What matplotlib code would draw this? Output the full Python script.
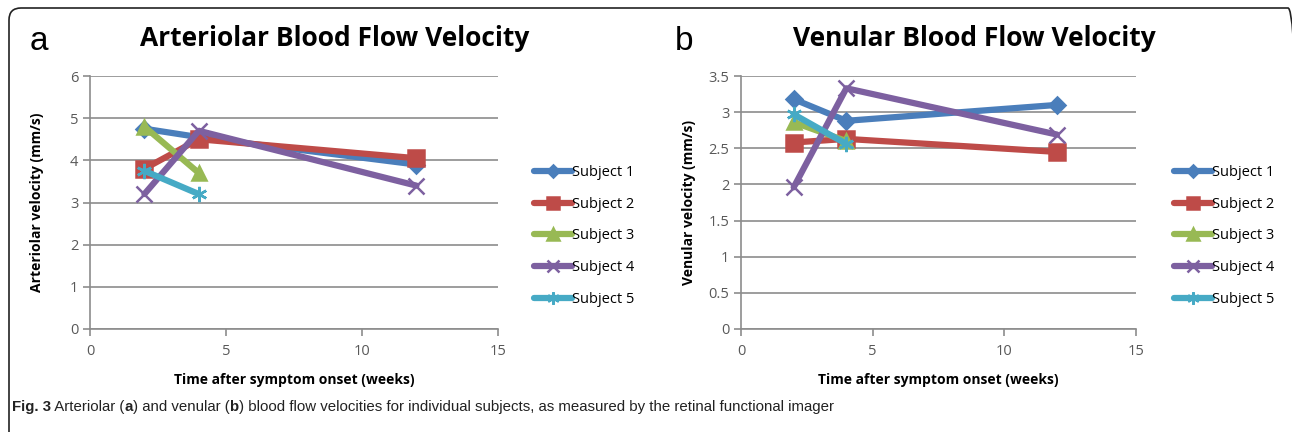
import matplotlib
matplotlib.use("Agg")
import matplotlib.pyplot as plt
from matplotlib.patches import FancyBboxPatch

plt.rcParams['font.family'] = ['Open Sans', 'DejaVu Sans']

# data
weeks_3 = [2, 4, 12]
weeks_2 = [2, 4]
subjects = ["Subject 1", "Subject 2", "Subject 3", "Subject 4", "Subject 5"]

art_s1 = [4.75, 4.55, 3.9]
art_s2 = [3.8, 4.5, 4.05]
art_s3 = [4.8, 3.7]
art_s4 = [3.2, 4.7, 3.4]
art_s5 = [3.75, 3.2]

ven_s1 = [3.18, 2.88, 3.1]
ven_s2 = [2.58, 2.63, 2.45]
ven_s3 = [2.86, 2.6]
ven_s4 = [1.96, 3.33, 2.69]
ven_s5 = [2.97, 2.56]

colors = ["#4A7EBB", "#BE4B48", "#98B954", "#7D60A0", "#46AAC5"]
markers = ["D", "s", "^", "x", (6, 2, 0)]
msizes = [8, 11, 10, 11, 11]

W, H = 1292, 432
fig = plt.figure(figsize=(W / 100, H / 100), dpi=100)

# rounded frame (only top/left visible in the original), in inches
frame = FancyBboxPatch((0.09, -0.5), 13.0 - 0.09, 4.32 - 0.08 + 0.5,
                       boxstyle="round,pad=0,rounding_size=0.12",
                       transform=fig.dpi_scale_trans, fill=False,
                       edgecolor="#222222", linewidth=1.2)
fig.patches.append(frame)


def draw_panel(ax, xs_list, ys_list, ymax, ystep, ylabel, yfmt, ylab_x):
    for i in range(5):
        ax.plot(xs_list[i], ys_list[i], color=colors[i], lw=4.5,
                marker=markers[i], ms=msizes[i], mew=1.8,
                mfc=colors[i], mec=colors[i], label=subjects[i],
                solid_capstyle="round")
    ax.set_xlim(0, 15)
    ax.set_ylim(0, ymax)
    ax.set_xticks([0, 5, 10, 15])
    yt = [k * ystep for k in range(int(round(ymax / ystep)) + 1)]
    ax.set_yticks(yt)
    ax.set_yticklabels([yfmt(v) for v in yt])
    ax.yaxis.grid(True, color="#8C8C8C", lw=1.2)
    ax.set_axisbelow(True)
    for s in ["top", "right"]:
        ax.spines[s].set_visible(False)
    for s in ["left", "bottom"]:
        ax.spines[s].set_color("#8C8C8C")
        ax.spines[s].set_linewidth(1.2)
    ax.tick_params(labelcolor="#595959", color="#8C8C8C", labelsize=10.5,
                   length=5, width=1.2, direction="out")
    ax.tick_params(axis="x", pad=6)
    ax.set_xlabel("Time after symptom onset (weeks)", fontsize=10,
                  fontweight="bold", labelpad=10)
    ax.set_ylabel(ylabel, fontsize=10, fontweight="bold")
    ax.yaxis.set_label_coords(ylab_x, 0.5)


def fmt_int(v):
    return "%d" % round(v)


def fmt_half(v):
    return ("%g" % v)


ax1 = fig.add_axes([90 / W, 1 - 329 / H, 408 / W, 253 / H])
draw_panel(ax1, [weeks_3, weeks_3, weeks_2, weeks_3, weeks_2],
           [art_s1, art_s2, art_s3, art_s4, art_s5], 6, 1,
           "Arteriolar velocity (mm/s)", fmt_int, -46 / 408)

ax2 = fig.add_axes([741 / W, 1 - 329 / H, 395 / W, 253 / H])
draw_panel(ax2, [weeks_3, weeks_3, weeks_2, weeks_3, weeks_2],
           [ven_s1, ven_s2, ven_s3, ven_s4, ven_s5], 3.5, 0.5,
           "Venular velocity (mm/s)", fmt_half, -45 / 395)

fig.text(335 / W, 1 - 39 / H, "Arteriolar Blood Flow Velocity", fontsize=19,
         fontweight="bold", ha="center", va="center")
fig.text(974 / W, 1 - 39 / H, "Venular Blood Flow Velocity", fontsize=19,
         fontweight="bold", ha="center", va="center")

for ax, lx in [(ax1, 528), (ax2, 1168)]:
    ax.legend(loc="upper left", bbox_to_anchor=(lx / W, 1 - 159 / H),
              bbox_transform=fig.transFigure, frameon=False, fontsize=10.5,
              handlelength=2.6, handletextpad=0.0, labelspacing=1.15,
              borderaxespad=0, markerscale=0.8)

fig.text(30 / W, 1 - 42 / H, "a", fontsize=24, family="Liberation Sans",
         va="center", ha="left")
fig.text(675 / W, 1 - 42 / H, "b", fontsize=24, family="Liberation Sans",
         va="center", ha="left")

# caption with mixed bold segments
renderer = fig.canvas.get_renderer()
segments = [("Fig. 3", "bold"), (" Arteriolar (", "normal"), ("a", "bold"),
            (") and venular (", "normal"), ("b", "bold"),
            (") blood flow velocities for individual subjects, as measured by the retinal functional imager", "normal")]
x = 12
for txt, wt in segments:
    t = fig.text(x / W, 1 - 407 / H, txt, fontsize=10.8, fontweight=wt,
                 family="Liberation Sans", va="center", ha="left",
                 color="#222222")
    bb = t.get_window_extent(renderer=renderer)
    x += bb.width

fig.savefig("out.png", dpi=100)
